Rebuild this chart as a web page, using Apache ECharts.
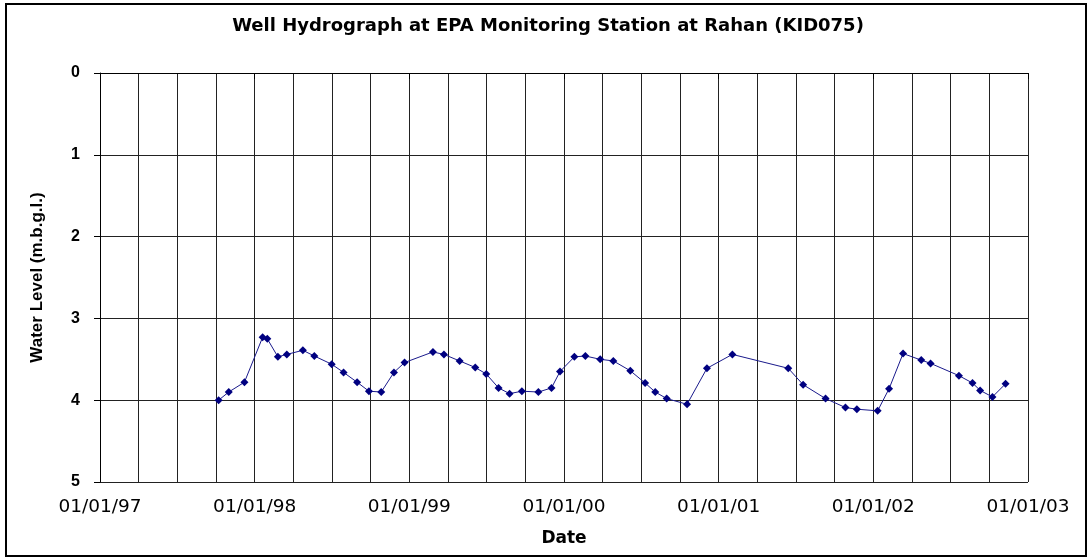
<!DOCTYPE html>
<html>
<head>
<meta charset="utf-8">
<script src="https://cdn.jsdelivr.net/npm/echarts@6/dist/echarts.min.js"></script>
<style>html,body{margin:0;padding:0;background:#fff}#c{width:1090px;height:559px}</style>
</head>
<body>
<div id="c"></div>
<script>
var dates = ['1997-10-08','1997-11-01','1997-12-08','1998-01-20','1998-01-31','1998-02-25','1998-03-18','1998-04-25','1998-05-22','1998-07-02','1998-07-30','1998-08-31','1998-09-28','1998-10-27','1998-11-26','1998-12-21','1999-02-26','1999-03-24','1999-04-30','1999-06-06','1999-07-02','1999-07-31','1999-08-26','1999-09-24','1999-11-02','1999-12-03','1999-12-23','2000-01-26','2000-02-21','2000-03-27','2000-04-27','2000-06-06','2000-07-11','2000-08-04','2000-08-31','2000-10-18','2000-12-04','2001-02-02','2001-06-14','2001-07-19','2001-09-10','2001-10-27','2001-11-23','2002-01-11','2002-02-07','2002-03-12','2002-04-24','2002-05-16','2002-07-22','2002-08-23','2002-09-10','2002-10-09','2002-11-09'];
var levels = [4.00,3.90,3.78,3.23,3.25,3.47,3.44,3.39,3.46,3.56,3.66,3.78,3.89,3.90,3.66,3.54,3.41,3.44,3.52,3.60,3.68,3.85,3.92,3.89,3.90,3.85,3.65,3.47,3.46,3.50,3.52,3.64,3.79,3.90,3.98,4.05,3.61,3.44,3.61,3.81,3.98,4.09,4.11,4.13,3.86,3.43,3.51,3.55,3.70,3.79,3.88,3.96,3.80];
var yTicks = [0,1,2,3,4,5];
var xTickLabels = ['01/01/97','01/01/98','01/01/99','01/01/00','01/01/01','01/01/02','01/01/03'];
var axisStart = '1997-01-01', axisEnd = '2003-01-01';

function ts(s){var p=s.split('-');return Date.UTC(+p[0],+p[1]-1,+p[2]);}
var xMin = ts(axisStart), xMax = ts(axisEnd);
var step = (xMax-xMin)/6;
var data = dates.map(function(d,i){return [ts(d), levels[i]];});
function fmt(v){
  var k = Math.round((v-xMin)/step);
  return xTickLabels[k] || '';
}
var chart = echarts.init(document.getElementById('c'));
chart.setOption({
  animation:false,
  backgroundColor:'#fff',
  title:{text:'Well Hydrograph at EPA Monitoring Station at Rahan (KID075)',left:543,textAlign:'center',top:12,
    textStyle:{fontFamily:'DejaVu Sans',fontWeight:'bold',fontSize:18,color:'#000'}},
  graphic:[{type:'rect',shape:{x:6,y:4,width:1080,height:552},style:{fill:'none',stroke:'#000',lineWidth:2},silent:true}],
  grid:{left:100,top:73,right:62,bottom:77,show:false},
  xAxis:{type:'value',min:xMin,max:xMax,interval:step,
    name:'Date',nameLocation:'middle',nameGap:48,
    nameTextStyle:{fontFamily:'DejaVu Sans',fontWeight:'bold',fontSize:17,color:'#000'},
    axisLine:{show:true,lineStyle:{color:'#000',width:1}},
    axisTick:{show:true,length:6,lineStyle:{color:'#000'}},
    axisLabel:{formatter:fmt,fontFamily:'DejaVu Sans',fontSize:18.5,color:'#000',margin:16,showMaxLabel:true},
    splitLine:{show:true,lineStyle:{color:'#222',width:1}},
    minorTick:{show:false,splitNumber:4},
    minorSplitLine:{show:true,lineStyle:{color:'#222',width:1}}
  },
  yAxis:{type:'value',inverse:true,min:0,max:5,interval:1,
    name:'Water Level (m.b.g.l.)',nameLocation:'middle',nameGap:54,nameRotate:90,
    nameTextStyle:{fontFamily:'Liberation Sans, Arial',fontWeight:'bold',fontSize:17,color:'#000'},
    axisLine:{show:true,lineStyle:{color:'#000',width:1}},
    axisTick:{show:true,length:6,lineStyle:{color:'#000'}},
    axisLabel:{formatter:function(v){return yTicks.indexOf(v)>=0?String(v):'';},fontFamily:'Liberation Sans, Arial',fontWeight:'bold',fontSize:16,color:'#000',margin:20},
    splitLine:{show:true,lineStyle:{color:'#222',width:1}}
  },
  series:[{type:'line',data:data,symbol:'diamond',symbolSize:8,
    lineStyle:{color:'#1a1a8c',width:1},itemStyle:{color:'#000080'}}]
});
</script>
</body>
</html>
